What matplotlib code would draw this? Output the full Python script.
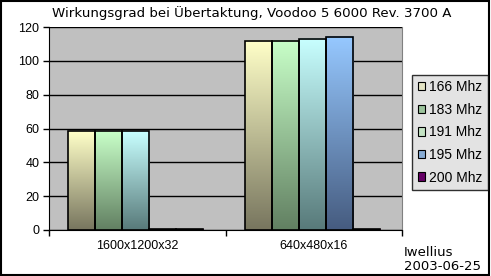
import numpy as np
import matplotlib
matplotlib.use("Agg")
import matplotlib.pyplot as plt
from matplotlib.patches import Patch, Rectangle

title = "Wirkungsgrad bei Übertaktung, Voodoo 5 6000 Rev. 3700 A"
categories = ["1600x1200x32", "640x480x16"]
series = ["166 Mhz", "183 Mhz", "191 Mhz", "195 Mhz", "200 Mhz"]
values = {
    "166 Mhz": [58.3, 111.9],
    "183 Mhz": [58.3, 111.9],
    "191 Mhz": [58.3, 113.2],
    "195 Mhz": [0.5, 114.4],
    "200 Mhz": [0.5, 0.5],
}
y_ticks = [0, 20, 40, 60, 80, 100, 120]
credit = "Iwellius\n2003-06-25"

top_colors = {
    "166 Mhz": (255, 255, 200),
    "183 Mhz": (200, 255, 200),
    "191 Mhz": (200, 255, 255),
    "195 Mhz": (150, 200, 255),
    "200 Mhz": (102, 0, 102),
}
bottom_colors = {
    "166 Mhz": (120, 118, 95),
    "183 Mhz": (98, 128, 98),
    "191 Mhz": (88, 122, 122),
    "195 Mhz": (70, 92, 128),
    "200 Mhz": (102, 0, 102),
}
legend_colors = ["#e4e4c4", "#9cc49c", "#c4e4c4", "#88acd4", "#660066"]

fig = plt.figure(figsize=(4.91, 2.76), dpi=100)
fig.patch.set_facecolor("white")
ax = fig.add_axes([0.0998, 0.1667, 0.719, 0.7353])
ax.set_facecolor("#c0c0c0")

n = len(series)
w = 0.153
x = np.arange(len(categories))
ax.set_xlim(-0.5, 1.5)
ax.set_ylim(0, 120)

for i, s in enumerate(series):
    off = (i - (n - 1) / 2) * w - 0.008
    bars = ax.bar(x + off, values[s], width=w, facecolor="none",
                  edgecolor="black", linewidth=1.2, zorder=4)
    top = np.array(top_colors[s]) / 255.0
    bot = np.array(bottom_colors[s]) / 255.0
    t = np.linspace(0, 1, 100)[:, None]
    grad = bot[None, :] * (1 - t) + top[None, :] * t
    grad = grad[:, None, :]
    for b in bars:
        x0, y0 = b.get_x(), b.get_y()
        ax.imshow(grad, extent=[x0, x0 + b.get_width(), y0, y0 + b.get_height()],
                  origin="lower", aspect="auto", zorder=3, interpolation="bilinear")

ax.set_xlim(-0.5, 1.5)
ax.set_ylim(0, 120)
ax.set_yticks(y_ticks)
ax.yaxis.grid(True, color="black", linewidth=1.0, zorder=1)
ax.set_axisbelow(True)
ax.set_xticks(x)
ax.set_xticklabels(categories, fontfamily="Liberation Sans", fontsize=9)
ax.set_xticks([-0.5, 0.5, 1.5], minor=True)
ax.tick_params(axis="x", which="major", length=0, pad=7)
ax.tick_params(axis="x", which="minor", length=4, width=1, direction="out")
ax.tick_params(axis="y", length=4, width=1, direction="out", pad=3)
for lab in ax.get_yticklabels():
    lab.set_fontfamily("Liberation Sans")
    lab.set_fontsize(9)
ax.spines["left"].set_color("black")
ax.spines["bottom"].set_color("black")
ax.spines["top"].set_visible(False)
ax.spines["right"].set_color("#808080")

handles = [Patch(facecolor=c, edgecolor="black", linewidth=0.8) for c in legend_colors]
leg = fig.legend(handles, series, loc="upper left", bbox_to_anchor=(0.839, 0.73),
                 frameon=True, fancybox=False, edgecolor="black", facecolor="#dcdcdc",
                 prop={"family": "Liberation Sans", "size": 10},
                 handlelength=0.55, handleheight=0.55, handletextpad=0.3,
                 labelspacing=0.62, borderpad=0.4, borderaxespad=0)
leg.get_frame().set_linewidth(1.0)

fig.text(0.513, 0.953, title, ha="center", va="center", fontsize=9.6,
         fontfamily="DejaVu Sans")
fig.text(0.823, 0.06, credit, ha="left", va="center", fontsize=9.5,
         fontfamily="DejaVu Sans", linespacing=1.05)

fig.add_artist(Rectangle((0.002, 0.004), 0.994, 0.992, transform=fig.transFigure,
                         fill=False, edgecolor="black", linewidth=1.5))

fig.savefig("out.png", dpi=100)
